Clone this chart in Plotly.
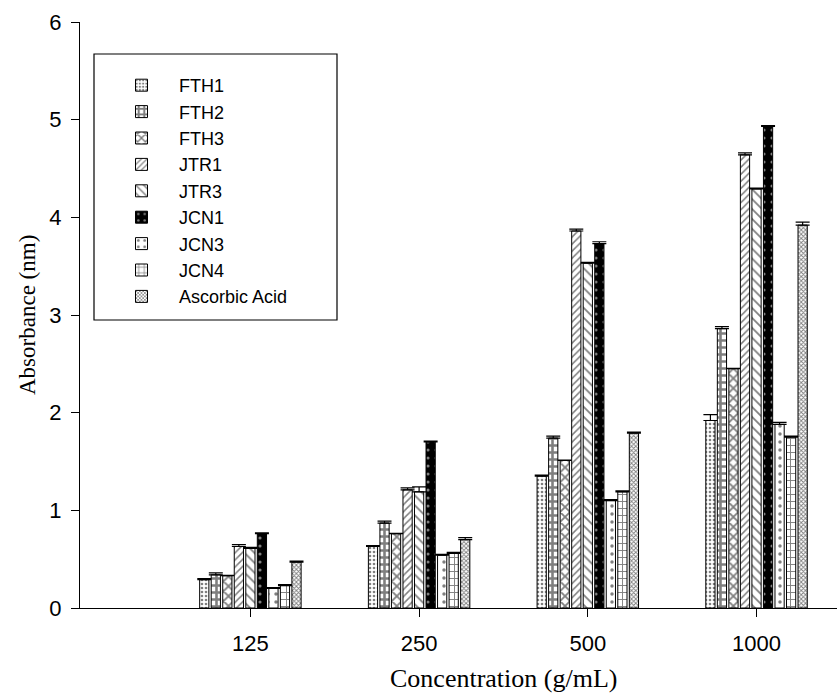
import plotly.graph_objects as go

# Concentrations (µg/mL) on the x axis
concentrations = ["125", "250", "500", "1000"]

# Mean absorbance per sample and concentration
fth1 = [0.29, 0.63, 1.35, 1.92]
fth2 = [0.34, 0.87, 1.74, 2.86]
fth3 = [0.33, 0.76, 1.51, 2.45]
jtr1 = [0.63, 1.21, 3.86, 4.64]
jtr3 = [0.61, 1.19, 3.53, 4.29]
jcn1 = [0.76, 1.70, 3.73, 4.93]
jcn3 = [0.20, 0.54, 1.10, 1.88]
jcn4 = [0.23, 0.56, 1.19, 1.75]
ascorbic = [0.47, 0.70, 1.79, 3.92]

# Standard deviations (drawn upward only)
fth1_sd = [0.01, 0.01, 0.01, 0.06]
fth2_sd = [0.02, 0.02, 0.02, 0.02]
fth3_sd = [0.005, 0.005, 0.005, 0.005]
jtr1_sd = [0.02, 0.02, 0.02, 0.02]
jtr3_sd = [0.01, 0.05, 0.01, 0.01]
jcn1_sd = [0.01, 0.01, 0.02, 0.01]
jcn3_sd = [0.01, 0.01, 0.01, 0.02]
jcn4_sd = [0.01, 0.01, 0.01, 0.01]
ascorbic_sd = [0.01, 0.02, 0.01, 0.03]

series = [
    ("FTH1", fth1, fth1_sd, dict(shape=".", fgcolor="black", bgcolor="white", size=4, solidity=0.35)),
    ("FTH2", fth2, fth2_sd, dict(shape="+", fgcolor="black", bgcolor="white", size=7, solidity=0.6)),
    ("FTH3", fth3, fth3_sd, dict(shape="x", fgcolor="black", bgcolor="white", size=7, solidity=0.45)),
    ("JTR1", jtr1, jtr1_sd, dict(shape="/", fgcolor="black", bgcolor="white", size=5, solidity=0.3)),
    ("JTR3", jtr3, jtr3_sd, dict(shape="\\", fgcolor="black", bgcolor="white", size=7, solidity=0.25)),
    ("JCN1", jcn1, jcn1_sd, dict(shape=".", fgcolor="white", bgcolor="black", size=8, solidity=0.12)),
    ("JCN3", jcn3, jcn3_sd, dict(shape=".", fgcolor="black", bgcolor="white", size=8, solidity=0.15)),
    ("JCN4", jcn4, jcn4_sd, dict(shape="+", fgcolor="black", bgcolor="white", size=7, solidity=0.25)),
    ("Ascorbic Acid", ascorbic, ascorbic_sd, dict(shape="x", fgcolor="black", bgcolor="white", size=3, solidity=0.5)),
]

positions = [i + 1 for i in range(len(concentrations))]

fig = go.Figure()
for name, vals, sd, pattern in series:
    fig.add_trace(go.Bar(
        name=name,
        x=positions,
        y=vals,
        marker=dict(color="white", line=dict(color="black", width=1), pattern=pattern),
        error_y=dict(type="data", array=sd, arrayminus=[0] * len(sd), symmetric=False,
                     color="black", thickness=1.2, width=7, visible=True),
    ))

# Plot-area geometry in pixels, used to place paper-referenced items
L, T, R, B = 80, 22, 837, 608
W, H = R - L, B - T


def px(x):
    return (x - L) / W


def py(y):
    return (B - y) / H


SANS = "Liberation Sans, Arial, sans-serif"
SERIF = "Liberation Serif, Times New Roman, serif"

fig.update_layout(
    width=837, height=693,
    margin=dict(l=L, r=837 - R, t=T, b=693 - B),
    paper_bgcolor="white", plot_bgcolor="white",
    barmode="group", bargap=0.385, bargroupgap=0.2,
    font=dict(family=SANS, size=18, color="black"),
    showlegend=True,
    legend=dict(
        x=px(104), y=py(67), xanchor="left", yanchor="top",
        bgcolor="rgba(0,0,0,0)", borderwidth=0,
        font=dict(family=SANS, size=18, color="black"),
        itemwidth=65, tracegroupgap=0, traceorder="normal",
    ),
    xaxis=dict(
        range=[-0.01, 4.477], tickvals=positions, ticktext=concentrations,
        showline=True, linecolor="black", linewidth=1,
        ticks="outside", ticklen=8, tickcolor="black", tickwidth=1,
        showgrid=False, zeroline=False, ticklabelstandoff=8,
        tickfont=dict(family=SANS, size=22, color="black"),
    ),
    yaxis=dict(
        range=[0, 6], dtick=1, tick0=0,
        showline=True, linecolor="black", linewidth=1,
        ticks="outside", ticklen=8, tickcolor="black", tickwidth=1,
        showgrid=False, zeroline=False, ticklabelstandoff=5,
        tickfont=dict(family=SANS, size=22, color="black"),
    ),
    shapes=[dict(type="rect", xref="paper", yref="paper",
                 x0=px(94), x1=px(337), y0=py(320), y1=py(54),
                 line=dict(color="black", width=1.2), fillcolor="rgba(0,0,0,0)", layer="above")],
    annotations=[
        dict(text="Concentration (g/mL)", xref="paper", yref="paper",
             x=px(503), y=py(678), showarrow=False, xanchor="center", yanchor="middle",
             font=dict(family=SERIF, size=26, color="black")),
        dict(text="Absorbance (nm)", xref="paper", yref="paper",
             x=px(27), y=py(315), showarrow=False, xanchor="center", yanchor="middle", textangle=-90,
             font=dict(family=SERIF, size=23, color="black")),
    ],
)

fig.write_html("out.html")
